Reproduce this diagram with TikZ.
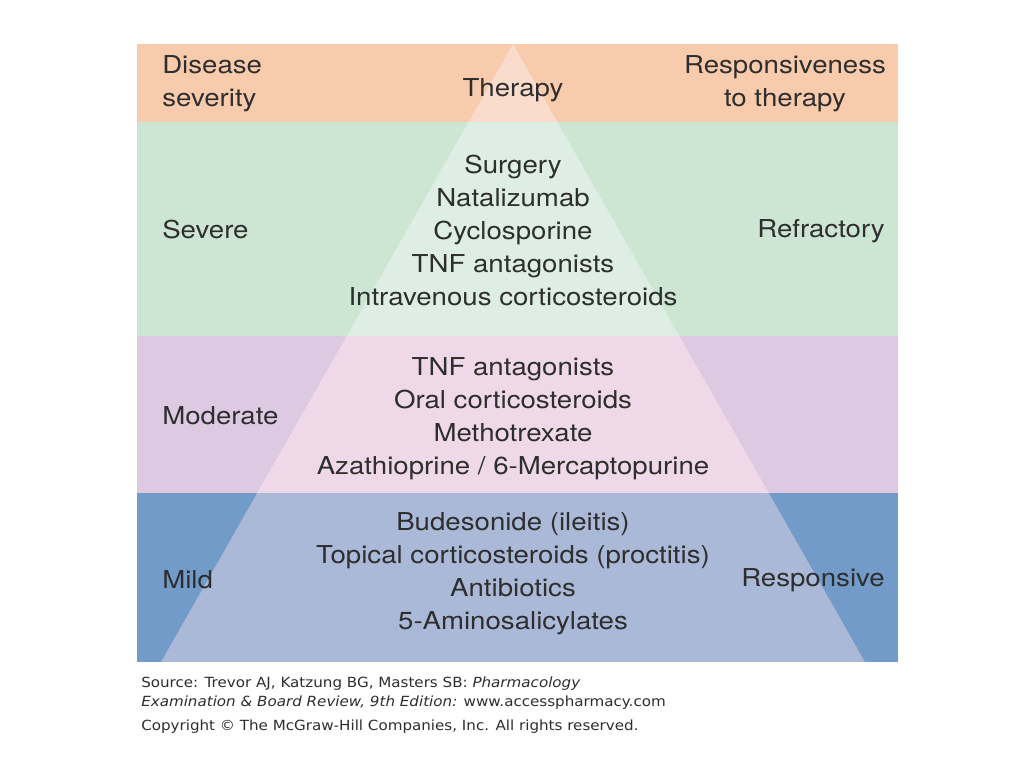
\documentclass[tikz,border=0pt]{standalone}
\usepackage{fontspec}
\setmainfont{TeX Gyre Heros}[FakeStretch=1.12]
\newfontfamily\capfont{DejaVu Sans}[FakeStretch=1.08]
\definecolor{bandtop}{HTML}{F8CBAD}
\definecolor{bandsev}{HTML}{CCE6D3}
\definecolor{bandmod}{HTML}{DEC9E3}
\definecolor{bandmild}{HTML}{729BCA}
\definecolor{tritop}{HTML}{F9DCCB}
\definecolor{trisev}{HTML}{DEEEE4}
\definecolor{trimod}{HTML}{EFD9E8}
\definecolor{trimild}{HTML}{AAB9D7}
\definecolor{ink}{HTML}{2E2E2E}
\begin{document}
\begin{tikzpicture}[x=0.75pt, y=-0.75pt]
  \tikzstyle{lbl}=[inner sep=0pt, text=ink, font=\fontsize{18.5}{24.75}\selectfont]
  \tikzstyle{lblleft}=[lbl, anchor=west, align=left]
  \tikzstyle{lblright}=[lbl, anchor=east, align=right]
  \tikzstyle{lblmid}=[lbl, align=center]
  \tikzstyle{srcline}=[inner sep=0pt, anchor=west, text=ink, font=\capfont\fontsize{10.5}{12}\selectfont]

  \useasboundingbox (0,0) rectangle (1024,768);
  \fill[white] (0,0) rectangle (1024,768);

  % bands
  \fill[bandtop]  (137,44)  rectangle (898,122);
  \fill[bandsev]  (137,122) rectangle (898,336);
  \fill[bandmod]  (137,336) rectangle (898,493);
  \fill[bandmild] (137,493) rectangle (898,662);

  % pyramid
  \begin{scope}
    \clip (513,44) -- (161,662) -- (865,662) -- cycle;
    \fill[tritop]  (137,44)  rectangle (898,122);
    \fill[trisev]  (137,122) rectangle (898,336);
    \fill[trimod]  (137,336) rectangle (898,493);
    \fill[trimild] (137,493) rectangle (898,662);
  \end{scope}

  % header
  \node[lblleft]  (sev)   at (162,84)  {Disease\\severity};
  \node[lblmid]   (ther)  at (513,90)  {Therapy};
  \node[lblmid]   (resp)  at (785,84)  {Responsiveness\\to therapy};

  % severe
  \node[lblleft]  (severe) at (162,230) {Severe};
  \node[lblmid]   (tsev)   at (513,230) {Surgery\\Natalizumab\\Cyclosporine\\TNF antagonists\\Intravenous corticosteroids};
  \node[lblright] (refr)   at (885,231) {Refractory};

  % moderate
  \node[lblleft]  (moder)  at (162,416) {Moderate};
  \node[lblmid]   (tmod)   at (513,419) {TNF antagonists\\Oral corticosteroids\\Methotrexate\\Azathioprine / 6-Mercaptopurine};

  % mild
  \node[lblleft]  (mild)   at (162,580) {Mild};
  \node[lblmid]   (tmild)  at (513,574) {Budesonide (ileitis)\\Topical corticosteroids (proctitis)\\Antibiotics\\5-Aminosalicylates};
  \node[lblright] (respon) at (885,580) {Responsive};

  % source
  \node[srcline] (src1) at (141,684) {Source: Trevor AJ, Katzung BG, Masters SB: \textit{Pharmacology}};
  \node[srcline] (src2) at (141,703) {\textit{Examination \& Board Review, 9th Edition:} www.accesspharmacy.com};
  \node[srcline] (copy) at (141,727) {Copyright © The McGraw-Hill Companies, Inc. All rights reserved.};
\end{tikzpicture}
\end{document}
